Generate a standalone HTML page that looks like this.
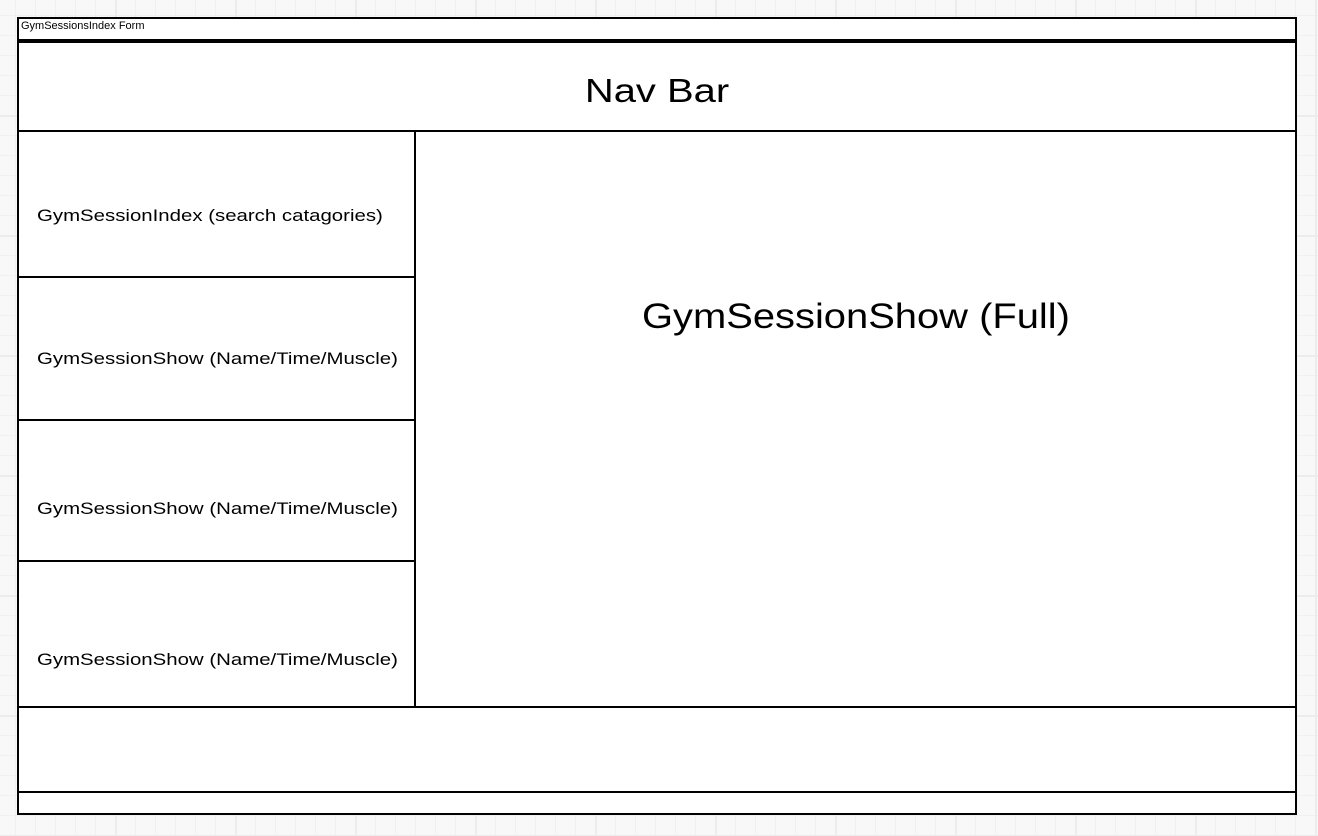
<!DOCTYPE html>
<html><head><style>
body{margin:0;width:1318px;height:836px;overflow:hidden;background-color:#f8f8f8;
background-image:linear-gradient(#ececec 2px,transparent 2px),linear-gradient(90deg,#ececec 2px,transparent 2px),linear-gradient(#f0f0f0 1px,transparent 1px),linear-gradient(90deg,#f0f0f0 1px,transparent 1px);
background-size:120px 120px,120px 120px,20px 20px,20px 20px;background-position:-5px -5px;
font-family:"Liberation Sans",sans-serif;position:relative}
.b{position:absolute;box-sizing:border-box;border:2px solid #000;background:#fff}
.t{position:absolute;white-space:nowrap;color:#000}
.l{transform:scaleX(1.2);transform-origin:left center}
</style></head><body>
<div class="b" style="left:17px;top:17px;width:1280px;height:798px"></div>
<div class="t" style="left:21px;top:20px;font-size:11px">GymSessionsIndex Form</div>
<div style="position:absolute;left:17px;top:39px;width:1280px;height:4px;background:#000"></div>
<div class="t" style="left:17px;width:1280px;text-align:center;top:72px;font-size:33px;transform:scaleX(1.21)">Nav Bar</div>
<div style="position:absolute;left:17px;top:130px;width:1280px;height:2px;background:#000"></div>
<div style="position:absolute;left:414px;top:130px;width:2px;height:578px;background:#000"></div>
<div style="position:absolute;left:17px;top:276px;width:398px;height:2px;background:#000"></div>
<div style="position:absolute;left:17px;top:419px;width:398px;height:2px;background:#000"></div>
<div style="position:absolute;left:17px;top:560px;width:398px;height:2px;background:#000"></div>
<div style="position:absolute;left:17px;top:706px;width:1280px;height:2px;background:#000"></div>
<div style="position:absolute;left:17px;top:791px;width:1280px;height:2px;background:#000"></div>
<div class="t l" style="left:37px;top:206px;font-size:17px">GymSessionIndex (search catagories)</div>
<div class="t l" style="left:37px;top:349px;font-size:17px">GymSessionShow (Name/Time/Muscle)</div>
<div class="t l" style="left:37px;top:499px;font-size:17px">GymSessionShow (Name/Time/Muscle)</div>
<div class="t l" style="left:37px;top:650px;font-size:17px">GymSessionShow (Name/Time/Muscle)</div>
<div class="t" style="left:416px;width:880px;text-align:center;top:297px;font-size:35px;transform:scaleX(1.14)">GymSessionShow (Full)</div>
</body></html>
